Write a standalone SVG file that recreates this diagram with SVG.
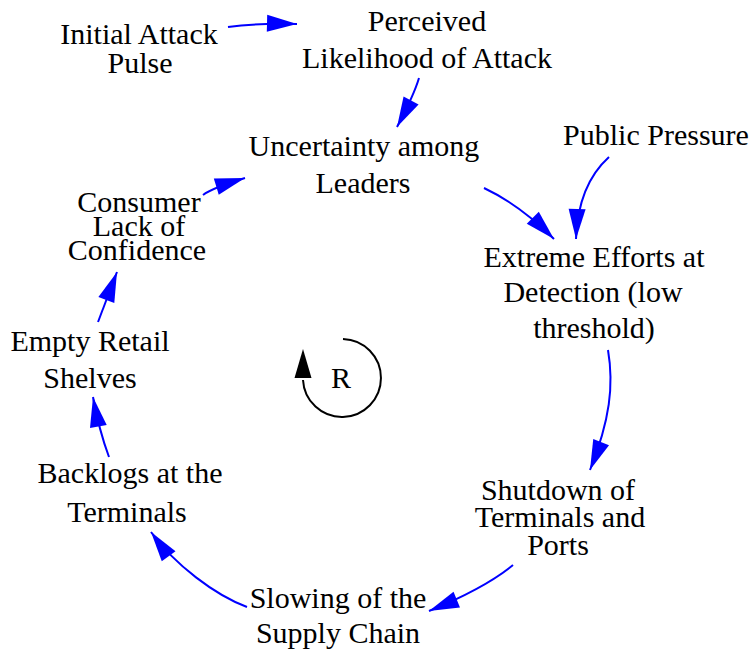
<svg xmlns="http://www.w3.org/2000/svg" width="752" height="655" viewBox="0 0 752 655">
<style>
text{font-size:30px;fill:#000;text-anchor:middle}
.c{fill:none;stroke:#0000ff;stroke-width:2}
</style>
<defs>
<marker id="ah" markerUnits="userSpaceOnUse" markerWidth="31" markerHeight="18" refX="30" refY="9" orient="auto" overflow="visible">
<path d="M0,0.5 L30,9 L0,17.5 z" fill="#0000ff"/>
</marker>
</defs>
<rect width="752" height="655" fill="#fff"/>
<g id="connectors">
<path class="c" d="M228,27 Q255,23 297,24" marker-end="url(#ah)"/>
<path class="c" d="M419,78 Q414,95 397,127" marker-end="url(#ah)"/>
<path class="c" d="M203,195 Q212,188 245,178" marker-end="url(#ah)"/>
<path class="c" d="M484,188 Q520,205 554,239" marker-end="url(#ah)"/>
<path class="c" d="M609,157 Q578,185 576,239" marker-end="url(#ah)"/>
<path class="c" d="M608,350 C614,385 610,420 590,470" marker-end="url(#ah)"/>
<path class="c" d="M513,565 Q485,588 429,611" marker-end="url(#ah)"/>
<path class="c" d="M247,607 C215,595 175,565 151,532" marker-end="url(#ah)"/>
<path class="c" d="M109,457 Q99,430 93,397" marker-end="url(#ah)"/>
<path class="c" d="M98,322 L117,272" marker-end="url(#ah)"/>
</g>
<g font-family="'Liberation Serif', 'DejaVu Serif', serif">
<g id="loop">
<path d="M343,339 A39,39 0 1 1 303,380" fill="none" stroke="#000" stroke-width="2"/>
<polygon points="303,349 294.5,378 311.5,378" fill="#000"/>
<text x="341" y="388">R</text>
</g>
<g id="initial"><text x="139" y="44">Initial Attack</text><text x="140" y="73">Pulse</text></g>
<g id="perceived"><text x="427" y="31">Perceived</text><text x="427" y="68">Likelihood of Attack</text></g>
<g id="uncertainty"><text x="364" y="156">Uncertainty among</text><text x="363" y="193">Leaders</text></g>
<g id="public"><text x="656" y="145">Public Pressure</text></g>
<g id="consumer"><text x="139" y="212">Consumer</text><text x="139" y="236">Lack of</text><text x="137" y="260">Confidence</text></g>
<g id="extreme"><text x="594" y="267">Extreme Efforts at</text><text x="593" y="302">Detection (low</text><text x="594" y="338">threshold)</text></g>
<g id="empty"><text x="90" y="351">Empty Retail</text><text x="90" y="388">Shelves</text></g>
<g id="backlogs"><text x="130" y="483">Backlogs at the</text><text x="127" y="522">Terminals</text></g>
<g id="shutdown"><text x="558" y="500">Shutdown of</text><text x="560" y="527">Terminals and</text><text x="558" y="555">Ports</text></g>
<g id="slowing"><text x="338" y="608">Slowing of the</text><text x="338" y="643">Supply Chain</text></g>
</g>
</svg>
